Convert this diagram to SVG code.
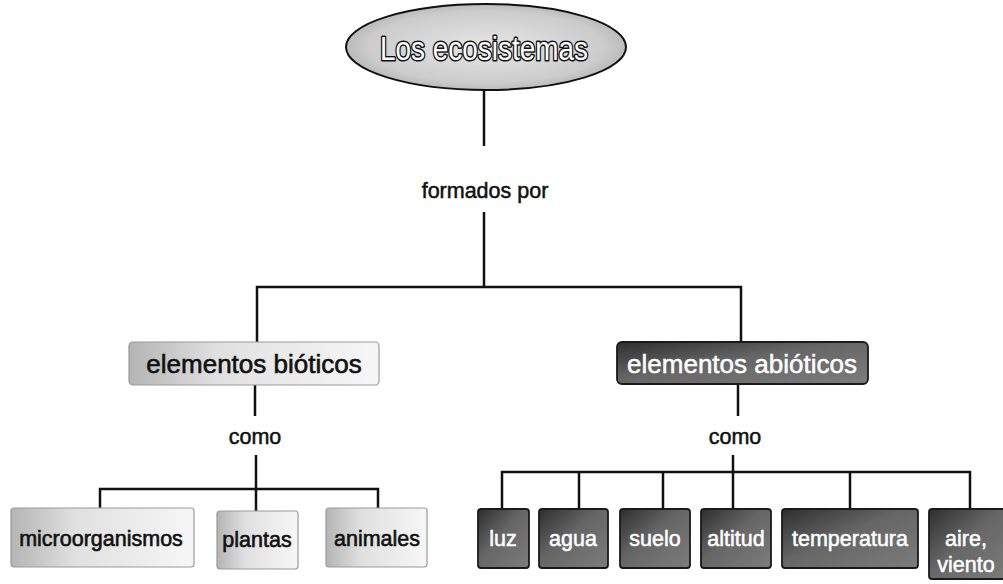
<svg xmlns="http://www.w3.org/2000/svg" width="1003" height="584" viewBox="0 0 1003 584">
<style>
.bg{fill:#ffffff}
.ln{stroke:#111;stroke-width:2.5;fill:none}
.lbl{font-family:"Liberation Sans",Arial,sans-serif;font-size:21.5px;fill:#111;stroke:#111;stroke-width:0.5;text-anchor:middle}
.bio{fill:url(#gBio);stroke:#9a9a9a;stroke-width:1.2}
.abio{fill:url(#gAbio);stroke:#1a1a1a;stroke-width:1.8}
.tb{font-family:"Liberation Sans",Arial,sans-serif;fill:#111;stroke:#111;stroke-width:0.6;text-anchor:middle}
.tw{font-family:"Liberation Sans",Arial,sans-serif;fill:#ffffff;stroke:#ffffff;stroke-width:0.5;text-anchor:middle}
</style>
<defs>
<linearGradient id="gBio" x1="0" y1="0" x2="1" y2="0">
<stop offset="0" stop-color="#b4b4b4"/>
<stop offset="0.35" stop-color="#e0e0e0"/>
<stop offset="1" stop-color="#f7f7f7"/>
</linearGradient>
<linearGradient id="gAbio" x1="0" y1="0" x2="1" y2="1">
<stop offset="0" stop-color="#2e2e2e"/>
<stop offset="0.45" stop-color="#666666"/>
<stop offset="1" stop-color="#7c7c7c"/>
</linearGradient>
<radialGradient id="gEll" cx="0.5" cy="0.5" r="0.6">
<stop offset="0" stop-color="#e6e6e6"/>
<stop offset="0.7" stop-color="#cccccc"/>
<stop offset="1" stop-color="#a4a4a4"/>
</radialGradient>
</defs>
<rect class="bg" x="0" y="0" width="1003" height="584"/>

<g id="connectors">
<line class="ln" x1="484" y1="90" x2="484" y2="146"/>
<line class="ln" x1="484" y1="212" x2="484" y2="287"/>
<polyline class="ln" points="257,345 257,287 741,287 741,345"/>
<line class="ln" x1="255" y1="385" x2="255" y2="416"/>
<line class="ln" x1="738" y1="384" x2="738" y2="416"/>
<line class="ln" x1="256" y1="455" x2="256" y2="511"/>
<polyline class="ln" points="100,508 100,489 378,489 378,508"/>
<line class="ln" x1="733" y1="455" x2="733" y2="509"/>
<polyline class="ln" points="502,509 502,472 970,472 970,509"/>
<line class="ln" x1="579" y1="472" x2="579" y2="509"/>
<line class="ln" x1="663" y1="472" x2="663" y2="509"/>
<line class="ln" x1="850" y1="472" x2="850" y2="509"/>
</g>

<g id="root">
<ellipse cx="486" cy="47" rx="140" ry="43" fill="url(#gEll)" stroke="#111" stroke-width="2"/>
<text x="484" y="60" font-family="'Liberation Sans',Arial,sans-serif" font-size="33" fill="#fff" stroke="#111" stroke-width="3" stroke-linejoin="round" text-anchor="middle" paint-order="stroke" textLength="208" lengthAdjust="spacingAndGlyphs">Los ecosistemas</text>
</g>

<g id="lbl-formados">
<text class="lbl" x="485" y="198">formados por</text>
</g>

<g id="bioticos">
<rect class="bio" x="129" y="342" width="250" height="43" rx="4"/>
<text class="tb" x="254" y="373" font-size="26">elementos bióticos</text>
</g>

<g id="abioticos">
<rect class="abio" x="617" y="342" width="251" height="42" rx="5"/>
<text class="tw" x="742" y="373" font-size="26">elementos abióticos</text>
</g>

<g id="lbl-como-1"><text class="lbl" x="255" y="444">como</text></g>
<g id="lbl-como-2"><text class="lbl" x="735" y="444">como</text></g>

<g id="microorganismos">
<rect class="bio" x="11" y="508" width="183" height="59" rx="3"/>
<text class="tb" x="101" y="546" font-size="21.5">microorganismos</text>
</g>
<g id="plantas">
<rect class="bio" x="217" y="511" width="81" height="58" rx="3"/>
<text class="tb" x="257" y="547" font-size="21.5">plantas</text>
</g>
<g id="animales">
<rect class="bio" x="326" y="508" width="101" height="59" rx="3"/>
<text class="tb" x="377" y="546" font-size="21.5">animales</text>
</g>

<g id="luz">
<rect class="abio" x="478" y="509" width="51" height="59" rx="3"/>
<text class="tw" x="503" y="546" font-size="21.5">luz</text>
</g>
<g id="agua">
<rect class="abio" x="539" y="509" width="69" height="59" rx="3"/>
<text class="tw" x="573" y="546" font-size="21.5">agua</text>
</g>
<g id="suelo">
<rect class="abio" x="620" y="509" width="70" height="59" rx="3"/>
<text class="tw" x="655" y="546" font-size="21.5">suelo</text>
</g>
<g id="altitud">
<rect class="abio" x="701" y="509" width="70" height="59" rx="3"/>
<text class="tw" x="736" y="546" font-size="21.5">altitud</text>
</g>
<g id="temperatura">
<rect class="abio" x="782" y="509" width="136" height="59" rx="3"/>
<text class="tw" x="850" y="546" font-size="21.5">temperatura</text>
</g>
<g id="aire">
<rect class="abio" x="929" y="509" width="80" height="70" rx="3"/>
<text class="tw" x="966" y="546" font-size="21.5">aire,</text>
<text class="tw" x="966" y="572" font-size="21.5">viento</text>
</g>
</svg>
